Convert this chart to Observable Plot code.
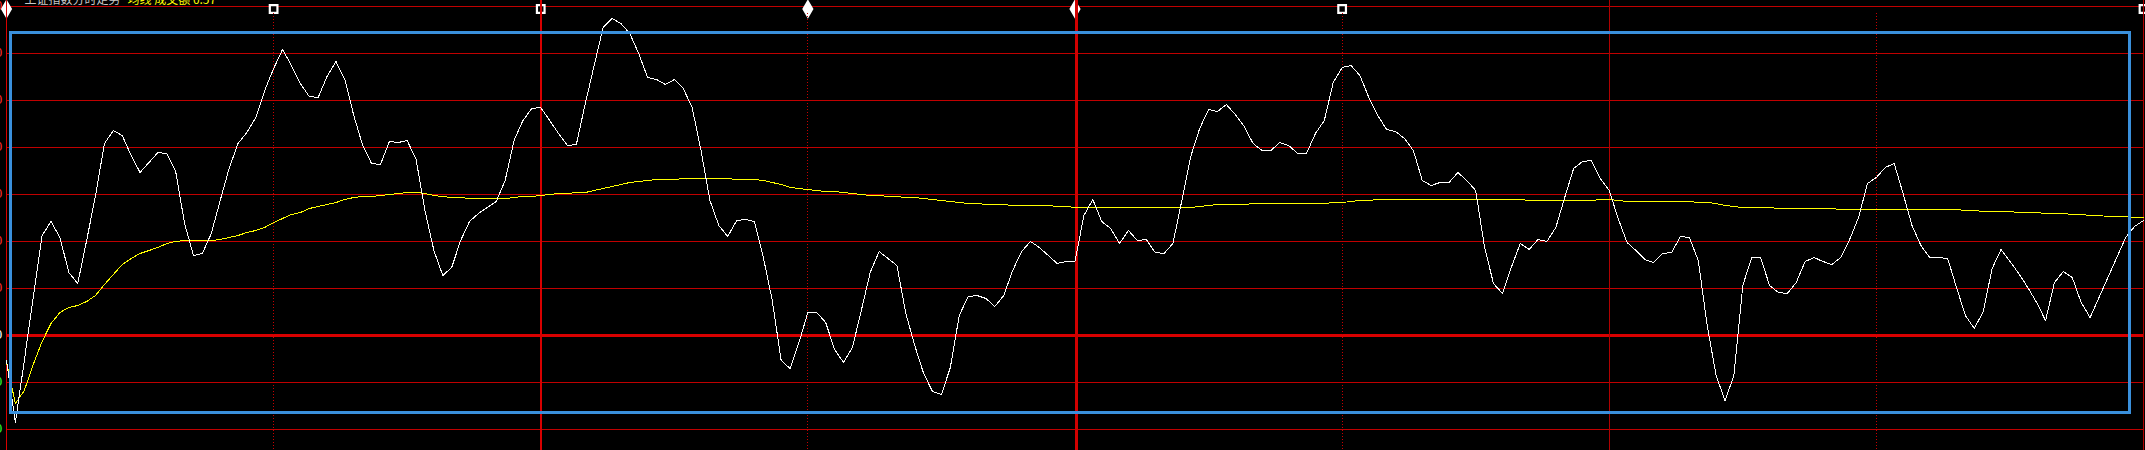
<!DOCTYPE html>
<html><head><meta charset="utf-8">
<script src="https://cdn.jsdelivr.net/npm/d3@7"></script>
<script src="https://cdn.jsdelivr.net/npm/@observablehq/plot@0.6"></script>
<style>html,body{margin:0;padding:0;background:#000;overflow:hidden}#chart svg{display:block}</style>
</head><body><div id="chart"></div>
<script>
// minute index 0..240 (9:30 – 11:30 / 13:00 – 15:00)
const priceValues = [
2997.5,2991.3,2997.5,3003.8,3010.0,3011.4,3009.8,3006.3,3005.2,3009.5,
3014.0,3019.2,3020.5,3020.0,3018.0,3016.3,3017.3,3018.3,3018.2,3016.4,
3011.2,3008.0,3008.2,3010.2,3013.5,3016.7,3019.2,3020.3,3021.8,3024.5,
3026.7,3028.6,3027.0,3025.2,3023.9,3023.8,3025.9,3027.4,3025.6,3022.0,
3019.0,3017.2,3017.1,3019.4,3019.3,3019.5,3017.6,3012.5,3008.5,3006.0,
3006.8,3009.5,3011.4,3012.2,3012.8,3013.4,3015.5,3019.5,3021.5,3022.7,
3022.8,3021.5,3020.2,3019.0,3019.1,3023.2,3027.0,3030.8,3031.7,3031.2,
3030.2,3028.2,3025.8,3025.6,3025.1,3025.6,3024.7,3022.8,3018.5,3013.5,
3011.0,3009.9,3011.5,3011.6,3011.4,3007.8,3003.5,2997.5,2996.7,2999.3,
3002.3,3002.3,3001.3,2998.6,2997.3,2998.8,3002.5,3006.3,3008.4,3007.7,
3007.0,3002.2,2999.0,2996.2,2994.4,2994.1,2996.8,3002.0,3003.9,3004.0,
3003.7,3002.9,3004.0,3006.5,3008.4,3009.4,3008.8,3008.0,3007.2,3007.4,
3007.4,3012.0,3013.6,3011.4,3010.7,3009.2,3010.5,3009.5,3009.6,3008.3,
3008.2,3009.2,3013.5,3017.9,3020.7,3022.6,3022.4,3023.1,3022.1,3020.9,
3019.2,3018.5,3018.5,3019.3,3019.0,3018.2,3018.2,3020.2,3021.5,3025.3,
3026.8,3027.0,3026.0,3023.8,3022.0,3020.6,3020.4,3019.7,3018.5,3015.5,
3015.0,3015.3,3015.3,3016.3,3015.5,3014.5,3008.8,3005.2,3004.2,3006.8,
3009.2,3008.6,3009.6,3009.4,3010.8,3013.8,3016.7,3017.4,3017.5,3015.7,
3014.5,3011.7,3009.3,3008.5,3007.6,3007.3,3008.2,3008.3,3009.9,3009.8,
3007.5,3001.0,2996.0,2993.5,2996.0,3005.0,3007.8,3007.8,3005.0,3004.3,
3004.2,3005.3,3007.4,3007.8,3007.4,3007.1,3007.8,3009.6,3011.8,3015.2,
3015.8,3016.8,3017.2,3014.2,3011.0,3009.0,3007.8,3007.8,3007.7,3004.8,
3002.0,3000.7,3002.4,3006.7,3008.6,3007.4,3006.2,3004.8,3003.3,3001.5,
3005.3,3006.4,3005.8,3003.3,3001.8,3003.8,3005.8,3007.8,3009.8,3010.9,
3011.5];
const avgValues = [
2997.3,2993.2,2994.5,2997.1,2999.4,3001.2,3002.3,3002.8,3003.0,3003.4,
3004.0,3005.1,3006.1,3007.1,3007.7,3008.2,3008.5,3008.8,3009.2,3009.4,
3009.5,3009.5,3009.5,3009.5,3009.6,3009.8,3010.0,3010.3,3010.5,3010.8,
3011.3,3011.7,3012.1,3012.3,3012.7,3012.9,3013.1,3013.3,3013.6,3013.8,
3013.9,3013.9,3014.0,3014.1,3014.2,3014.3,3014.3,3014.2,3014.0,3013.9,
3013.8,3013.8,3013.7,3013.7,3013.7,3013.7,3013.7,3013.8,3013.9,3013.9,
3014.0,3014.1,3014.2,3014.2,3014.3,3014.3,3014.5,3014.7,3014.9,3015.1,
3015.3,3015.4,3015.5,3015.6,3015.6,3015.6,3015.7,3015.7,3015.7,3015.7,
3015.7,3015.7,3015.6,3015.6,3015.6,3015.5,3015.3,3015.1,3014.8,3014.7,
3014.6,3014.5,3014.4,3014.4,3014.3,3014.2,3014.1,3014.0,3014.0,3013.9,
3013.9,3013.8,3013.8,3013.7,3013.6,3013.5,3013.4,3013.3,3013.2,3013.2,
3013.1,3013.1,3013.1,3013.0,3013.0,3013.0,3013.0,3013.0,3012.9,3012.9,
3012.8,3012.8,3012.8,3012.8,3012.8,3012.8,3012.8,3012.8,3012.8,3012.8,
3012.8,3012.8,3012.8,3012.8,3012.9,3013.0,3013.1,3013.1,3013.1,3013.1,
3013.2,3013.2,3013.2,3013.2,3013.2,3013.2,3013.2,3013.2,3013.2,3013.3,
3013.3,3013.4,3013.5,3013.5,3013.6,3013.6,3013.6,3013.6,3013.6,3013.6,
3013.6,3013.6,3013.6,3013.6,3013.6,3013.6,3013.6,3013.6,3013.6,3013.6,
3013.6,3013.5,3013.5,3013.5,3013.5,3013.5,3013.5,3013.5,3013.5,3013.6,
3013.6,3013.5,3013.4,3013.4,3013.4,3013.4,3013.4,3013.4,3013.4,3013.4,
3013.3,3013.3,3013.2,3013.0,3012.9,3012.8,3012.8,3012.8,3012.8,3012.7,
3012.7,3012.7,3012.7,3012.7,3012.7,3012.7,3012.6,3012.6,3012.6,3012.6,
3012.6,3012.6,3012.6,3012.6,3012.6,3012.6,3012.6,3012.6,3012.6,3012.6,
3012.5,3012.5,3012.4,3012.4,3012.4,3012.4,3012.3,3012.3,3012.3,3012.2,
3012.2,3012.2,3012.1,3012.1,3012.0,3012.0,3011.9,3011.9,3011.9,3011.8,
3011.8];
const minutes = priceValues.map((d, i) => i);

const prevClose = 3000.0;
const gridValues = [3032.9, 3028.2, 3023.5, 3018.8, 3014.1, 3009.4, 3004.7, 2995.3, 2990.6];
const gridLabels = ["3032.90","3028.20","3023.50","3018.80","3014.10","3009.40","3004.70","3000.00","2995.30","2990.60"];
const labelValues = [3032.9, 3028.2, 3023.5, 3018.8, 3014.1, 3009.4, 3004.7, 3000.0, 2995.3, 2990.6];

const solidBright = [0, 60];
const middayMinute = [120];
const solidDark = [180, 240];
const dottedMinutes = [30, 90, 150, 210];

const markerSquares = [30, 60, 150, 240];
const markerArrows = [0, 90, 120];

const boxMinutes = [0.45, 238.45];
const boxValues = [2992.3, 3030.3];

const titleText = "上证指数分时走势";
const subText = "均线 成交额 0.57";

const crisp = {shapeRendering: "crispEdges"};

const chart = Plot.plot({
  width: 2145, height: 450,
  marginLeft: 6, marginRight: 2, marginTop: 0, marginBottom: 0,
  x: {domain: [0, 240], axis: null},
  y: {domain: [2988.5, 3033.5], axis: null},
  style: {background: "#000", overflow: "hidden"},
  marks: [
    Plot.ruleY(gridValues, {stroke: "#c00000", strokeWidth: 1, ...crisp}),
    Plot.ruleY([prevClose], {stroke: "#d80000", strokeWidth: 3, ...crisp}),
    Plot.dot(markerSquares, {x: d => d, frameAnchor: "top", dy: 8.5, symbol: "square", r: 4.3, stroke: "#fff", strokeWidth: 2.2, fill: "#000"}),
    Plot.dot(markerArrows, {x: d => d, frameAnchor: "top", dy: 8.5, symbol: "diamond", r: 5, stroke: "#fff", strokeWidth: 1.5, fill: "#fff"}),
    Plot.ruleX(dottedMinutes, {stroke: "#c80000", strokeWidth: 1, strokeDasharray: "1,2", y1: 3032.2, ...crisp}),
    Plot.ruleX(solidBright, {stroke: "#d80000", strokeWidth: 1.5, ...crisp}),
    Plot.ruleX(middayMinute, {stroke: "#d00000", strokeWidth: 2.5, dx: 1.5, ...crisp}),
    Plot.ruleX(solidDark, {stroke: "#b00000", strokeWidth: 1, ...crisp}),
    Plot.text(labelValues, {x: () => 0, y: d => d, text: (d, i) => gridLabels[i], textAnchor: "end", dx: -4, fontSize: 12,
      fill: d => d > prevClose ? "#ff3030" : d < prevClose ? "#30ff30" : "#ffffff", fontFamily: "DejaVu Sans Mono"}),
    Plot.line(avgValues, {x: minutes, y: d => d, stroke: "#ffff00", strokeWidth: 1, ...crisp}),
    Plot.line(priceValues, {x: minutes, y: d => d, stroke: "#ffffff", strokeWidth: 1, ...crisp}),
    Plot.rect([0], {x1: boxMinutes[0], x2: boxMinutes[1], y1: boxValues[0], y2: boxValues[1], fill: "none", stroke: "#3a90dc", strokeWidth: 3, ...crisp}),
    Plot.text([titleText], {frameAnchor: "top-left", textAnchor: "start", lineAnchor: "bottom", dx: 18, dy: 3, fill: "#c8c8c8", fontSize: 12, fontFamily: "Noto Sans CJK SC"}),
    Plot.text([subText], {frameAnchor: "top-left", textAnchor: "start", lineAnchor: "bottom", dx: 121, dy: 3, fill: "#ffff00", fontSize: 12, fontFamily: "Noto Sans CJK SC"})
  ]
});
document.getElementById("chart").appendChild(chart);
</script>
</body></html>
